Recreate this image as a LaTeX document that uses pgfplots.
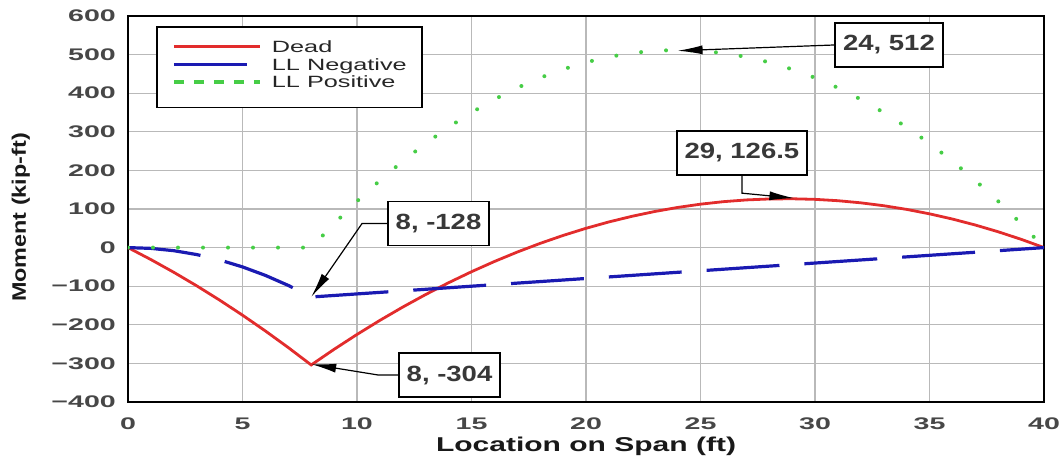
\documentclass[border=0pt]{standalone}
\usepackage{fontspec}
\setmainfont{Liberation Sans}
\newfontfamily\tickfont{Liberation Sans}[FakeStretch=1.7]
\newfontfamily\legfont{Liberation Sans}[FakeStretch=1.55]
\newfontfamily\xlabfont{Liberation Sans}[FakeStretch=1.5]
\newfontfamily\ylabfont{Liberation Sans}[FakeStretch=1.2]
\newfontfamily\boxfont{Liberation Sans}[FakeStretch=1.25]
\usepackage{pgfplots}
\pgfplotsset{compat=1.18}
\usetikzlibrary{arrows.meta}
\definecolor{deadred}{RGB}{226,44,44}
\definecolor{llblue}{RGB}{26,26,178}
\definecolor{llgreen}{RGB}{70,205,70}
\definecolor{gridgray}{RGB}{185,185,185}
\begin{document}
\begin{tikzpicture}
\begin{axis}[
 scale only axis, width=916pt, height=386pt,
 xmin=0, xmax=40, ymin=-400, ymax=600,
 xtick={0,5,10,15,20,25,30,35,40},
 xticklabels={0,5,10,15,20,25,30,35,40},
 ytick={-400,-300,-200,-100,0,100,200,300,400,500,600},
 yticklabels={−400,−300,−200,−100,0,100,200,300,400,500,600},
 grid=major,
 major grid style={draw=gridgray, line width=1.3pt},
 axis line style={line width=2.5pt, draw=black},
 tick style={draw=none}, major tick length=0pt,
 xticklabel style={font=\tickfont\bfseries\fontsize{16.8}{18}\selectfont, text=black!72, anchor=north, inner sep=0pt, yshift=-16pt},
 yticklabel style={font=\tickfont\bfseries\fontsize{16.8}{18}\selectfont, text=black!72, anchor=east, inner sep=0pt, xshift=-12pt},
 xlabel={Location on Span (ft)},
 ylabel={Moment (kip-ft)},
 xlabel style={font=\xlabfont\bfseries\fontsize{20}{22}\selectfont, text=black!90, at={(axis description cs:0.5,-0.1295)}, anchor=base, inner sep=0pt},
 ylabel style={font=\ylabfont\bfseries\fontsize{19.5}{22}\selectfont, text=black!90, at={(axis description cs:-0.1114,0.478)}, anchor=base, inner sep=0pt},
 legend cell align=left,
 legend image code/.code={\draw[#1] (0pt,3pt) -- (86pt,3pt);},
 legend style={at={(axis description cs:0.0306,0.974)}, anchor=north west, draw=black, line width=1.8pt, fill=white, inner xsep=15pt, inner ysep=14pt, row sep=0pt, font=\legfont\fontsize{16.3}{18}\selectfont, text=black!85, nodes={inner sep=0pt, text height=12pt, text depth=5.5pt}, /tikz/every odd column/.append style={column sep=10pt}},
]
\addplot[deadred, line width=2.8pt] coordinates {
(0,0) (1,-31) (2,-64) (3,-99) (4,-136) (5,-175) (6,-216) (7,-259) (8,-304)
(9,-263.5) (10,-225) (11,-188.5) (12,-154) (13,-121.5) (14,-91) (15,-62.5)
(16,-36) (17,-11.5) (18,11) (19,31.5) (20,50) (21,66.5) (22,81) (23,93.5)
(24,104) (25,112.5) (26,119) (27,123.5) (28,126) (29,126.5) (30,125)
(31,121.5) (32,116) (33,108.5) (34,99) (35,87.5) (36,74) (37,58.5) (38,41)
(39,21.5) (40,0)};
\addlegendentry{Dead}
\addplot[llblue, line width=3.2pt, dash pattern=on 73pt off 25pt] coordinates {
(0,0) (1,-2) (2,-8) (3,-18) (4,-32) (5,-50) (6,-72) (7,-98) (8,-128) (40,0)};
\addlegendentry{LL Negative}
\addlegendimage{llgreen, line width=4pt, dash pattern=on 10pt off 10pt}
\addlegendentry{LL Positive}
\addplot[llgreen, line width=4pt, line cap=round, dash pattern=on 0pt off 25pt, forget plot] coordinates {
(0,0) (1,0) (2,0) (3,0) (4,0) (5,0) (6,0) (7,0) (8,0)
(9,62) (10,120) (11,174) (12,224) (13,270) (14,312) (15,350) (16,384)
(17,414) (18,440) (19,462) (20,480) (21,494) (22,504) (23,510) (24,512)
(25,510) (26,504) (27,494) (28,480) (29,462) (30,440) (31,414) (32,384)
(33,350) (34,312) (35,270) (36,224) (37,174) (38,120) (39,62) (40,0)};
\tikzset{annbox/.style={draw=black, line width=1.4pt, fill=white, minimum height=44pt, inner sep=0pt, font=\boxfont\bfseries\fontsize{22}{24}\selectfont, text=black!78},
 annarrow/.style={line width=1.2pt, -{Latex[length=25pt,width=9pt]}}}
\node[annbox, minimum width=108pt] (b1) at (axis cs:33.23,524.9) {24, 512};
\draw[annarrow] (b1.west) -- (axis cs:24,510);
\node[annbox, minimum width=130pt] (b2) at (axis cs:26.81,245.1) {29, 126.5};
\draw[annarrow] (b2.south) -- (axis cs:26.81,141) -- (axis cs:29.1,128);
\node[annbox, minimum width=101pt] (b3) at (axis cs:13.56,62.4) {8, -128};
\draw[annarrow] (b3.west) -- (axis cs:10.22,62.4) -- (axis cs:8,-128);
\node[annbox, minimum width=101pt] (b4) at (axis cs:14.04,-330.1) {8, -304};
\draw[annarrow] (b4.west) -- (axis cs:10.93,-330.1) -- (axis cs:8,-302);
\end{axis}
\pgfresetboundingbox
\path[use as bounding box] (-128pt,-59pt) rectangle (936pt,402pt);
\end{tikzpicture}
\end{document}
